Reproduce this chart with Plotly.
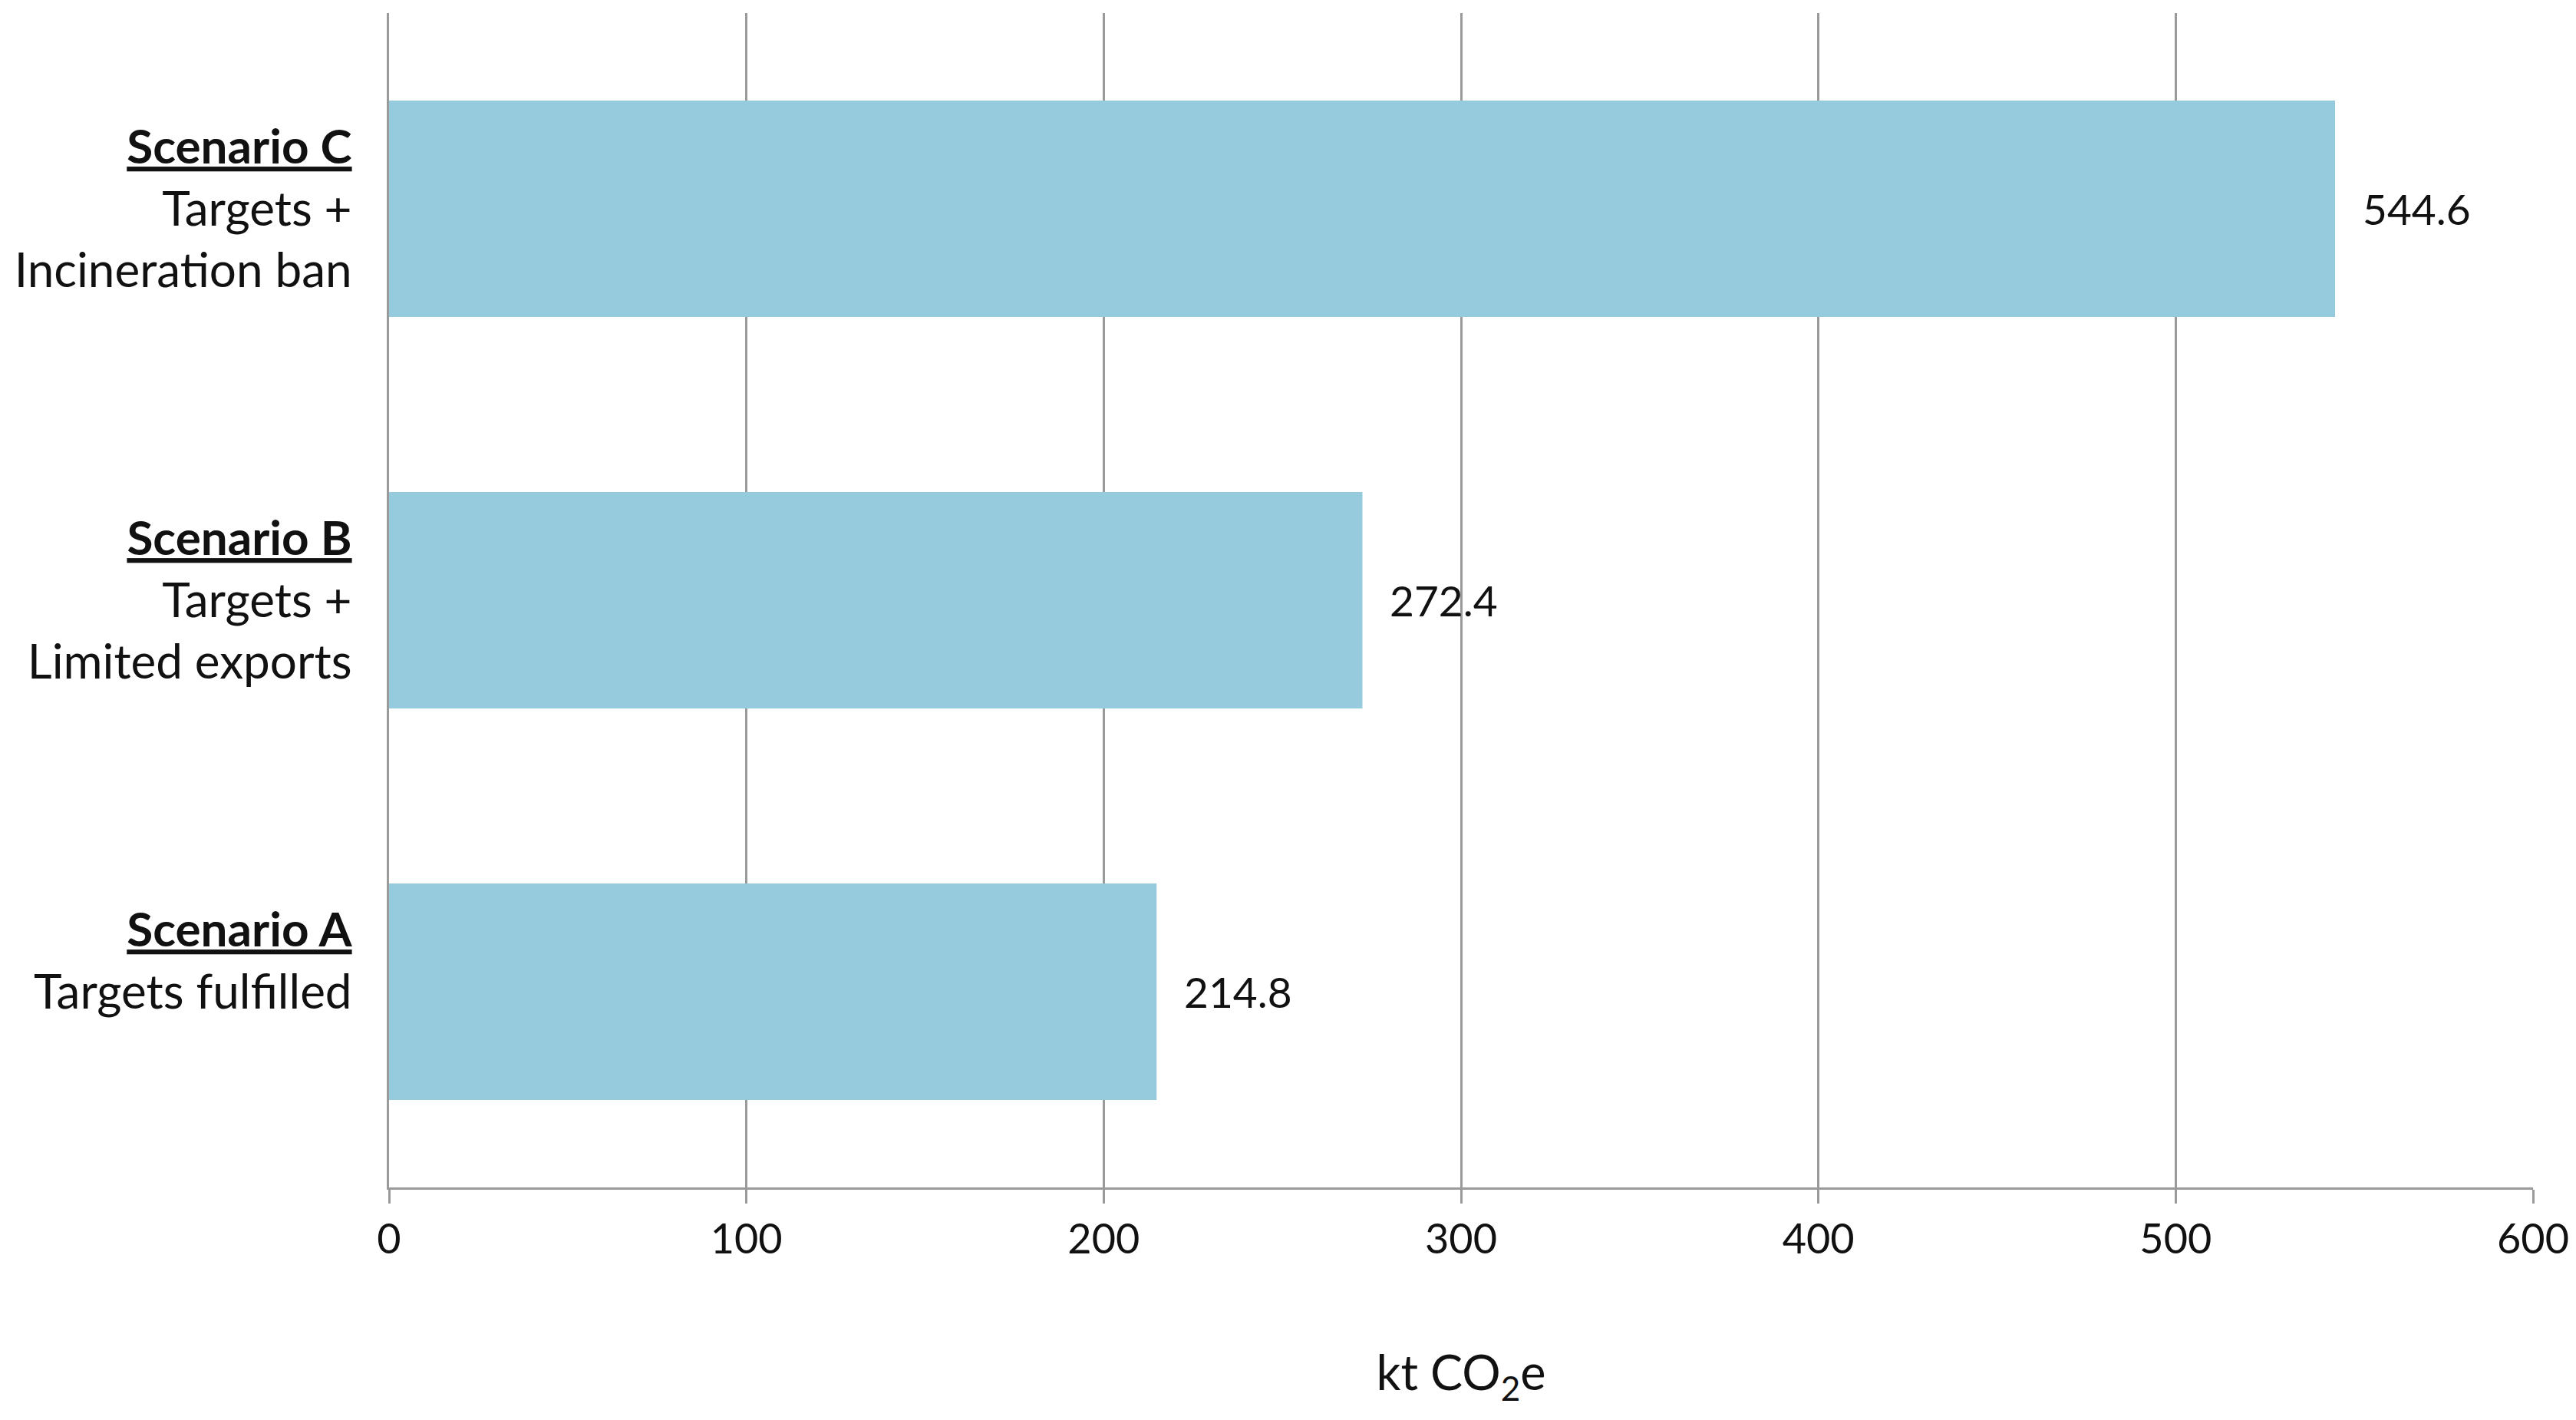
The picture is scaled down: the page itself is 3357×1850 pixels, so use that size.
import plotly.graph_objects as go

# scenario data (kt CO2e)
scenarios = ["Scenario A", "Scenario B", "Scenario C"]
descriptions = ["Targets fulfilled", "Targets +<br>Limited exports", "Targets +<br>Incineration ban"]
emissions = [214.8, 272.4, 544.6]
x_ticks = [0, 100, 200, 300, 400, 500, 600]

FONT = "Lato"
GRID = "#9a9a9a"
BAR = "#95cbdc"

labels = []
for name, desc in zip(scenarios, descriptions):
    lbl = f"<b><u>{name}</u></b><br>{desc}"
    if "<br>" not in desc:
        # Excel keeps a blank trailing line on the two-line label
        lbl += "<br> "
    labels.append(lbl)

fig = go.Figure()
fig.add_trace(go.Bar(
    x=emissions,
    y=scenarios,
    orientation="h",
    marker=dict(color=BAR, line=dict(width=0)),
    hoverinfo="skip",
))

for val, name in zip(emissions, scenarios):
    fig.add_annotation(
        x=val, y=name, text=f"{val:.1f}",
        showarrow=False, xanchor="left", xshift=34,
        font=dict(family=FONT, size=55, color="#111111"),
    )

# page body has an 8px margin, so the figure is 8px smaller
fig.update_layout(
    width=3349, height=1842,
    paper_bgcolor="white", plot_bgcolor="white",
    margin=dict(l=499, r=56, t=9, b=303),
    bargap=0.447,
    showlegend=False,
    font=dict(family=FONT, size=62, color="#111111"),
)

fig.update_xaxes(
    range=[0, 600],
    tickvals=x_ticks,
    showgrid=True, gridcolor=GRID, gridwidth=3,
    showline=True, linecolor=GRID, linewidth=3,
    ticks="outside", ticklen=18, tickwidth=3, tickcolor=GRID,
    tickfont=dict(family=FONT, size=54, color="#111111"),
    zeroline=False,
    title=dict(text="kt CO<sub>2</sub>e", font=dict(family=FONT, size=63, color="#111111"), standoff=124),
)

fig.update_yaxes(
    categoryorder="array", categoryarray=scenarios,
    tickvals=scenarios, ticktext=labels,
    showline=True, linecolor=GRID, linewidth=3,
    ticks="", ticklabelstandoff=33,
    tickfont=dict(family=FONT, size=62, color="#111111"),
    showgrid=False,
)

fig.write_html("out.html")
